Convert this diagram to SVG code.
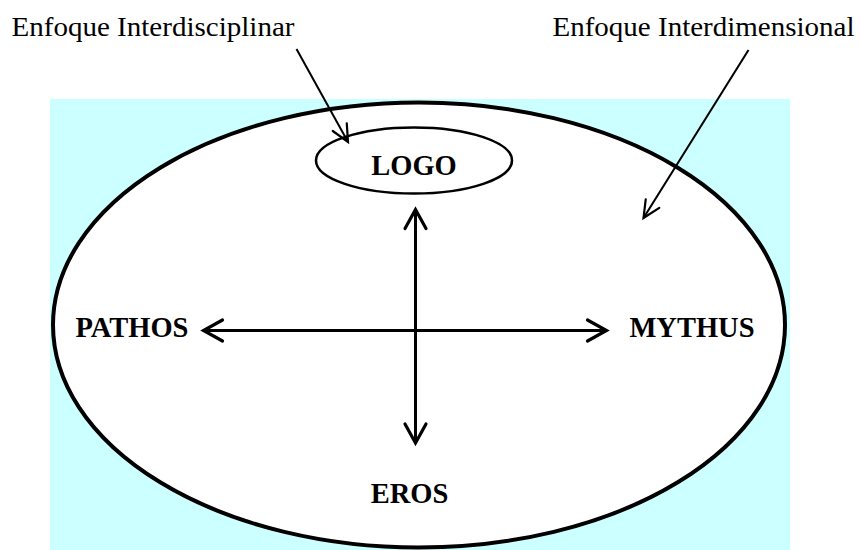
<svg xmlns="http://www.w3.org/2000/svg" width="860" height="550" viewBox="0 0 860 550">
  <style>
    .label { font-family: "Liberation Serif", "Times New Roman", serif; font-size: 27px; fill: #000; }
    .node { font-family: "Liberation Serif", "Times New Roman", serif; font-size: 28.5px; font-weight: bold; fill: #000; text-anchor: middle; }
    .axis { stroke: #000; stroke-width: 3; fill: none; marker-start: url(#headBold); marker-end: url(#headBold); }
    .pointer { stroke: #000; stroke-width: 2; fill: none; marker-end: url(#headThin); }
  </style>
  <defs>
    <!-- open chevron heads: bold for the axes, thin for the label pointers -->
    <marker id="headBold" markerUnits="userSpaceOnUse" viewBox="-22 -13 26 26" markerWidth="26" markerHeight="26" refX="0" refY="0" orient="auto-start-reverse" overflow="visible">
      <path d="M -19 -10.5 L 0 0 L -19 10.5" fill="none" stroke="#000" stroke-width="3.2" stroke-linecap="round" stroke-linejoin="miter"/>
    </marker>
    <marker id="headThin" markerUnits="userSpaceOnUse" viewBox="-20 -12 24 24" markerWidth="24" markerHeight="24" refX="0" refY="0" orient="auto" overflow="visible">
      <path d="M -17 -8 L 0 0 L -17 8" fill="none" stroke="#000" stroke-width="2.2" stroke-linecap="round"/>
    </marker>
  </defs>

  <!-- background panel -->
  <rect x="50" y="99" width="740" height="451" fill="#CCFFFF"/>

  <!-- outer field -->
  <g id="field">
    <ellipse cx="419" cy="325" rx="366" ry="222.5" fill="#fff" stroke="#000" stroke-width="4"/>
  </g>

  <g id="logo">
    <ellipse cx="414" cy="160.5" rx="98" ry="33" fill="#fff" stroke="#000" stroke-width="2.5"/>
    <text class="node" x="414" y="175">LOGO</text>
  </g>

  <g id="pathos">
    <text class="node" x="132" y="337">PATHOS</text>
  </g>

  <g id="mythus">
    <text class="node" x="692" y="337">MYTHUS</text>
  </g>

  <g id="eros">
    <text class="node" x="409.5" y="503">EROS</text>
  </g>

  <g id="label-interdisciplinar">
    <text class="label" x="11.5" y="35.5" textLength="283" lengthAdjust="spacingAndGlyphs">Enfoque Interdisciplinar</text>
  </g>

  <g id="label-interdimensional">
    <text class="label" x="552.5" y="36" textLength="302" lengthAdjust="spacingAndGlyphs">Enfoque Interdimensional</text>
  </g>

  <!-- connectors -->
  <g id="connectors">
    <line class="axis" x1="203.5" y1="330.5" x2="606.5" y2="330.5"/>
    <line class="axis" x1="415.5" y1="209.5" x2="415.5" y2="443"/>
    <line class="pointer" x1="296.5" y1="49" x2="348" y2="142"/>
    <line class="pointer" x1="748.5" y1="50" x2="643.5" y2="218"/>
  </g>
</svg>
